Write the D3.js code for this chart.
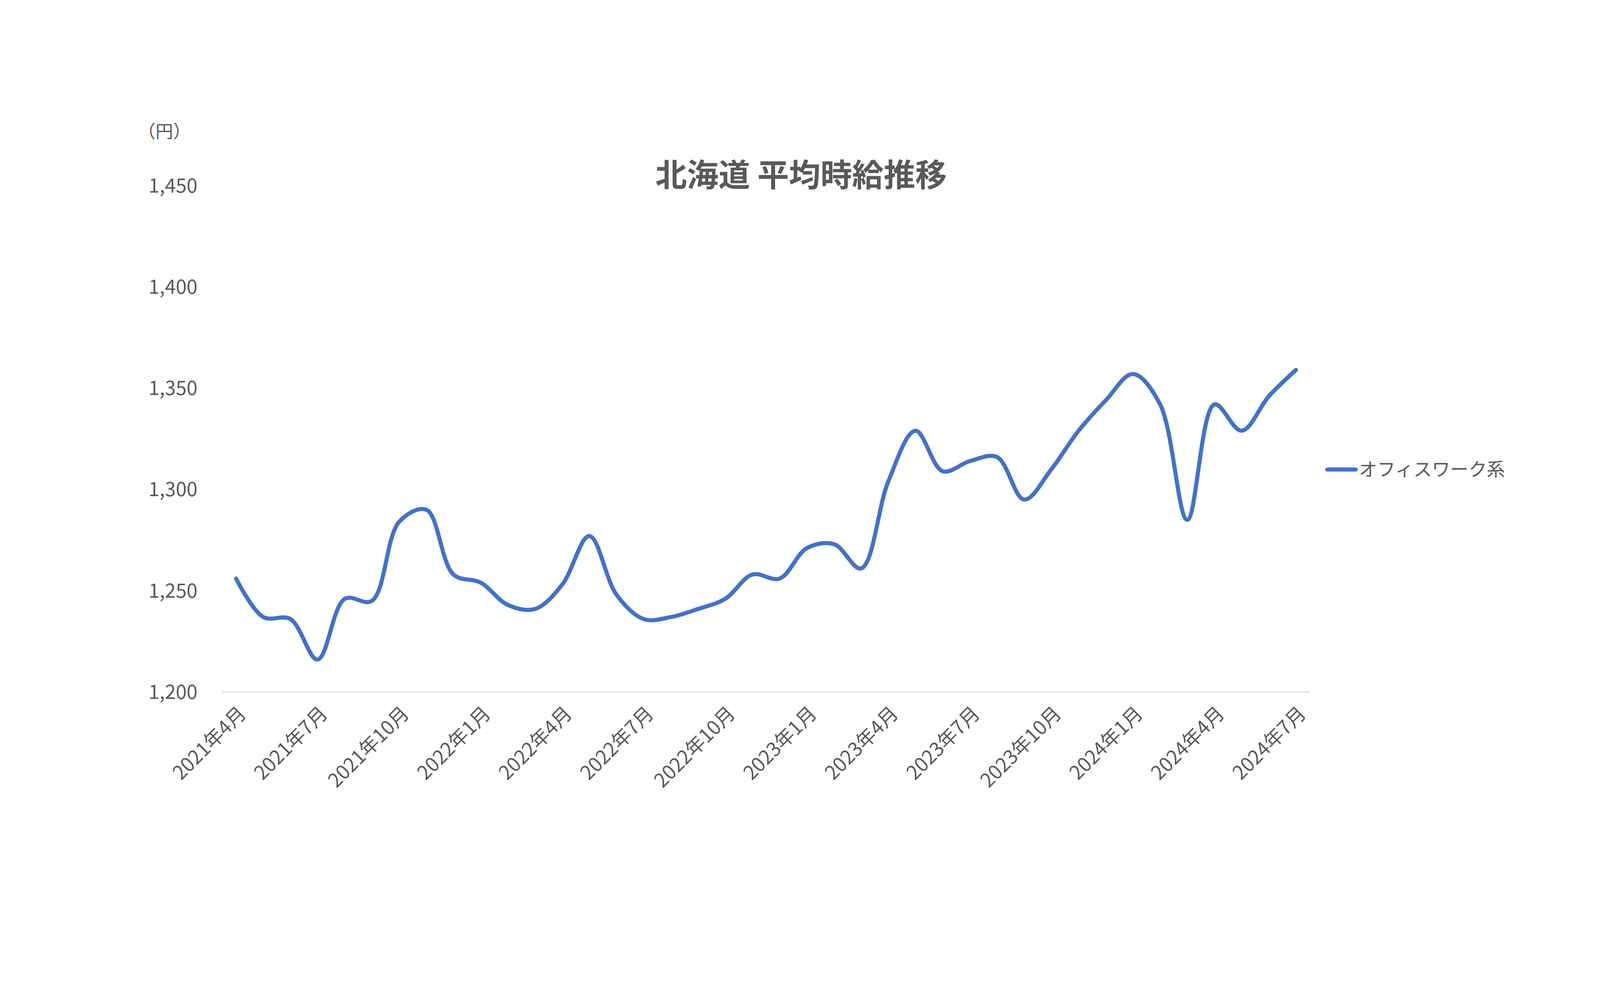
<!DOCTYPE html>
<html><head><meta charset="utf-8">
<script src="https://cdn.jsdelivr.net/npm/d3@7"></script>
<style>html,body{margin:0;padding:0;background:#fff;overflow:hidden}svg{display:block;width:100vw;height:100vh}</style></head>
<body><svg id="c" viewBox="0 0 5063 2511" preserveAspectRatio="xMidYMid meet"></svg>
<script>
const months = [];
for (let y = 2021, m = 4; months.length < 40; ) { months.push(y + "年" + m + "月"); m++; if (m > 12) { m = 1; y++; } }
const values = [1256,1237,1236,1216,1246,1245,1284,1290,1258,1254,1243,1241,1253,1277,1248,1236,1237,1241,1246,1258,1256,1271,1273,1261,1304,1329,1309,1314,1316,1295,1310,1329,1344,1357,1342,1285,1342,1329,1346,1359];
const yTicks = [1200,1250,1300,1350,1400,1450];
const seriesName = "オフィスワーク系";
const title = "北海道 平均時給推移";

const svg = d3.select("#c");
const font = "'Noto Sans CJK JP', sans-serif";
const x = d3.scaleBand().domain(months).range([704, 4144]);
const y = d3.scaleLinear().domain([1200, 1450]).range([1893, 291]);
const cx = d => x(d) + x.bandwidth() / 2;

svg.append("line").attr("x1", 704).attr("x2", 4144).attr("y1", y(1200)).attr("y2", y(1200))
  .attr("stroke", "#d9d9d9").attr("stroke-width", 3);

svg.append("g").selectAll("text").data(yTicks).join("text")
  .attr("x", 625).attr("y", d => y(d)).attr("dy", "0.35em").attr("text-anchor", "end")
  .attr("font-family", font).attr("font-size", 62).attr("fill", "#595959")
  .text(d => d3.format(",")(d));

svg.append("text").attr("x", 520).attr("y", 140).attr("text-anchor", "middle")
  .attr("font-family", font).attr("font-size", 56).attr("fill", "#595959").text("（円）");

const labels = months.filter((d, i) => i % 3 === 0);
svg.append("g").selectAll("text").data(labels).join("text")
  .attr("transform", d => `translate(${cx(d) + 20},${1950}) rotate(-45)`)
  .attr("text-anchor", "end").attr("dy", "0.35em")
  .attr("font-family", font).attr("font-size", 62).attr("fill", "#595959").text(d => d);

svg.append("path").datum(values)
  .attr("d", d3.line().x((d, i) => cx(months[i])).y(d => y(d)).curve(d3.curveCatmullRom.alpha(0.5)))
  .attr("fill", "none").attr("stroke", "#4472C4").attr("stroke-width", 13).attr("stroke-linecap", "round");

svg.append("text").attr("x", 2535).attr("y", 258).attr("dy", "0.35em").attr("text-anchor", "middle")
  .attr("font-family", font).attr("font-size", 100).attr("font-weight", "bold").attr("fill", "#595959").text(title);

svg.append("line").attr("x1", 4200).attr("x2", 4290).attr("y1", 1189).attr("y2", 1189)
  .attr("stroke", "#4472C4").attr("stroke-width", 13).attr("stroke-linecap", "round");
svg.append("text").attr("x", 4300).attr("y", 1189).attr("dy", "0.35em")
  .attr("font-family", font).attr("font-size", 58).attr("fill", "#595959").text(seriesName);
</script></body></html>
